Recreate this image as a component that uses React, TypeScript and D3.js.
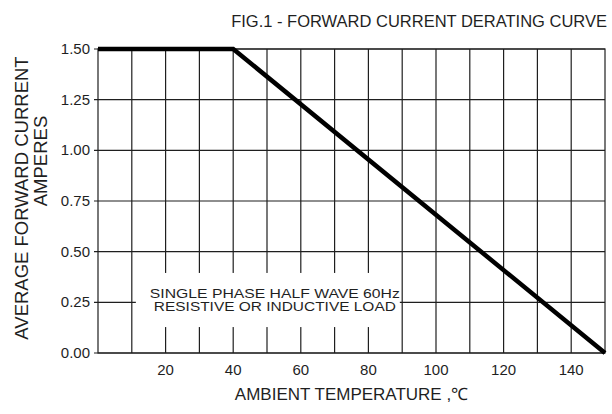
import React, { useEffect, useRef } from 'react'
import * as d3 from 'd3'

// curve points: ambient temperature (°C) -> average forward current (A)
const tempPoints = [0, 40, 150]
const currentPoints = [1.5, 1.5, 0]

const xTicks = [20, 40, 60, 80, 100, 120, 140]
const yTicks = [0, 0.25, 0.5, 0.75, 1.0, 1.25, 1.5]
const xGrid = d3.range(10, 150, 10)

const noteLines = ['SINGLE PHASE HALF WAVE 60Hz', 'RESISTIVE OR INDUCTIVE LOAD']
const noteWidths = [250, 242]

const W = 612
const H = 414
const FONT = '"Liberation Sans", Arial, sans-serif'
const INK = '#1f1f1f'

export default function App() {
  const svgRef = useRef<SVGSVGElement>(null)

  useEffect(() => {
    const svg = d3.select(svgRef.current)
    svg.selectAll('*').remove()

    const left = 98
    const right = 605
    const top = 49
    const bottom = 353

    const x = d3.scaleLinear().domain([0, 150]).range([left, right])
    const y = d3.scaleLinear().domain([0, 1.5]).range([bottom, top])

    svg.append('rect').attr('width', W).attr('height', H).attr('fill', '#fff')

    const grid = svg.append('g').attr('stroke', INK).attr('stroke-width', 1.2)

    // horizontal grid + small outside ticks
    grid
      .selectAll('line.h')
      .data(yTicks)
      .enter()
      .append('line')
      .attr('x1', left - 4)
      .attr('x2', right)
      .attr('y1', (d) => y(d))
      .attr('y2', (d) => y(d))

    grid
      .selectAll('line.v')
      .data(xGrid)
      .enter()
      .append('line')
      .attr('x1', (d) => x(d))
      .attr('x2', (d) => x(d))
      .attr('y1', top)
      .attr('y2', bottom)

    // frame
    grid
      .append('rect')
      .attr('x', left)
      .attr('y', top)
      .attr('width', right - left)
      .attr('height', bottom - top)
      .attr('fill', 'none')

    // note box hides the grid behind the text
    const boxX0 = x(11.2)
    const boxX1 = x(89.3)
    const boxY0 = y(0.395)
    const boxY1 = y(0.128)
    svg
      .append('rect')
      .attr('x', boxX0)
      .attr('y', boxY0)
      .attr('width', boxX1 - boxX0)
      .attr('height', boxY1 - boxY0)
      .attr('fill', '#fff')

    const note = svg
      .append('g')
      .attr('font-family', FONT)
      .attr('font-size', 12.5)
      .attr('fill', INK)
      .attr('text-anchor', 'middle')
    note
      .selectAll('text')
      .data(noteLines)
      .enter()
      .append('text')
      .attr('x', (boxX0 + boxX1) / 2 + 7)
      .attr('y', (d, i) => y(0.25) - 4 + i * 12.5)
      .attr('textLength', (d, i) => noteWidths[i])
      .attr('lengthAdjust', 'spacingAndGlyphs')
      .text((d) => d)

    // derating curve
    const line = d3
      .line<number>()
      .x((d) => x(d))
      .y((d, i) => y(currentPoints[i]))
    svg
      .append('path')
      .attr('d', line(tempPoints))
      .attr('fill', 'none')
      .attr('stroke', '#000')
      .attr('stroke-width', 4.5)
      .attr('stroke-linejoin', 'miter')

    // tick labels
    svg
      .append('g')
      .attr('font-family', FONT)
      .attr('font-size', 15)
      .attr('fill', INK)
      .attr('text-anchor', 'end')
      .selectAll('text')
      .data(yTicks)
      .enter()
      .append('text')
      .attr('x', left - 8)
      .attr('y', (d) => y(d) + 5)
      .text((d) => d3.format('.2f')(d))

    svg
      .append('g')
      .attr('font-family', FONT)
      .attr('font-size', 15)
      .attr('fill', INK)
      .attr('text-anchor', 'middle')
      .selectAll('text')
      .data(xTicks)
      .enter()
      .append('text')
      .attr('x', (d) => x(d))
      .attr('y', bottom + 22)
      .text((d) => d)

    // titles
    svg
      .append('text')
      .attr('x', 607)
      .attr('y', 27)
      .attr('text-anchor', 'end')
      .attr('font-family', FONT)
      .attr('font-size', 16.5)
      .attr('fill', INK)
      .text('FIG.1 - FORWARD CURRENT DERATING CURVE')

    svg
      .append('text')
      .attr('x', (left + right) / 2)
      .attr('y', 400)
      .attr('text-anchor', 'middle')
      .attr('font-family', FONT)
      .attr('font-size', 17)
      .attr('fill', INK)
      .text('AMBIENT TEMPERATURE ,℃')

    const yLab = svg
      .append('g')
      .attr('font-family', FONT)
      .attr('font-size', 18.5)
      .attr('fill', INK)
      .attr('text-anchor', 'middle')
    yLab
      .append('text')
      .attr('transform', 'translate(28,198) rotate(-90)')
      .text('AVERAGE FORWARD CURRENT')
    yLab
      .append('text')
      .attr('transform', 'translate(47,161) rotate(-90)')
      .text('AMPERES')
  }, [])

  return (
    <svg
      ref={svgRef}
      width={W}
      height={H}
      style={{ position: 'absolute', left: 0, top: 0 }}
    />
  )
}
